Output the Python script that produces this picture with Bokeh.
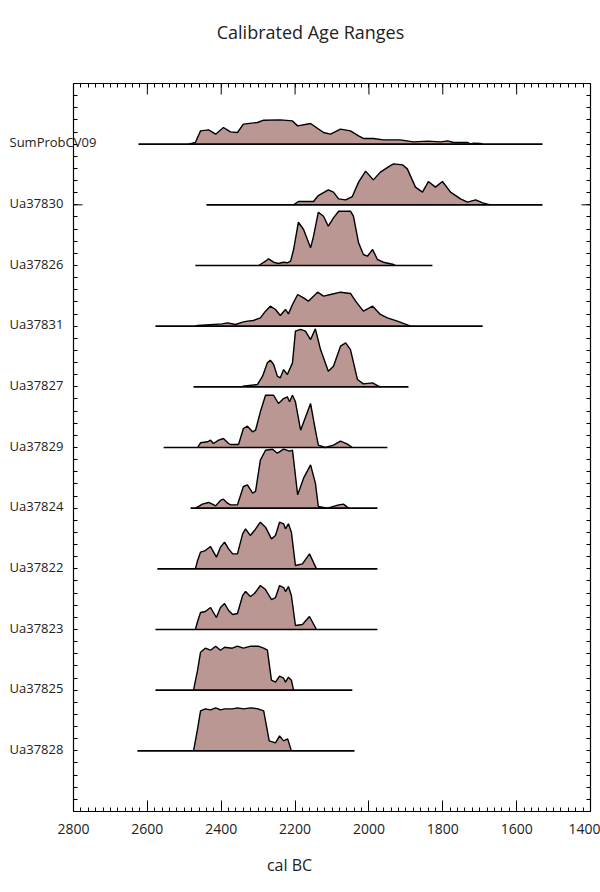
from bokeh.plotting import figure
from bokeh.models import Range1d, LinearAxis, FixedTicker
from bokeh.core.properties import value
from bokeh.embed import file_html
from bokeh.resources import INLINE

TITLE = "Calibrated Age Ranges"
X_LABEL = "cal BC"
X_TICKS = [2800, 2600, 2400, 2200, 2000, 1800, 1600, 1400]

NAMES = ["SumProbCV09", "Ua37830", "Ua37826", "Ua37831", "Ua37827", "Ua37829",
         "Ua37824", "Ua37822", "Ua37823", "Ua37825", "Ua37828"]

# calibrated range lines (cal BC): start, end
RANGE_START = [2624, 2440, 2470, 2578, 2475, 2556, 2483, 2573, 2578, 2578, 2627]
RANGE_END = [1530, 1530, 1828, 1692, 1893, 1950, 1977, 1977, 1977, 2045, 2039]

# probability distributions (relative probability, arbitrary units)
SUM_YEARS = [2489, 2470, 2456, 2434, 2415, 2394, 2375, 2356, 2340, 2302, 2285, 2240, 2207, 2193,
             2158, 2123, 2104, 2077, 2050, 2028, 2015, 1988, 1961, 1915, 1879, 1841, 1806, 1787,
             1771, 1733, 1725, 1717, 1698, 1692]
SUM_PROB = [0, 1.7, 13.3, 14.3, 10, 16.7, 12.3, 11.7, 20, 21.7, 24, 24.3, 23.3, 18.3,
            20.7, 11.7, 10, 15, 13.3, 8.3, 5.7, 5.7, 4.3, 4.3, 2.3, 3, 2.3, 3.3,
            1.7, 1.7, 0, 1, 0.7, 0]

UA37830_YEARS = [2204, 2191, 2150, 2137, 2110, 2096, 2082, 2063, 2045, 2028, 2009, 1988, 1969, 1942,
                 1933, 1909, 1896, 1874, 1855, 1839, 1820, 1801, 1779, 1752, 1733, 1711, 1692, 1671]
UA37830_PROB = [0, 3.3, 3.3, 9.3, 15, 12.7, 6, 5, 8.3, 22.7, 33.7, 25, 32.7, 39.3,
                41, 40, 36, 17.7, 12.7, 23.3, 17.7, 23.3, 12.7, 6, 2.7, 5, 2, 0]

UA37826_YEARS = [2299, 2294, 2280, 2272, 2258, 2245, 2231, 2221, 2212, 2204, 2191, 2177, 2158, 2150,
                 2137, 2123, 2110, 2096, 2082, 2050, 2042, 2028, 2015, 2004, 1990, 1977, 1961, 1933, 1928]
UA37826_PROB = [0, 1, 4.3, 6.7, 3.3, 2, 3.3, 2.7, 4.3, 16, 43.3, 36, 17.7, 29.3,
                53.3, 49.3, 39.3, 47.7, 54.3, 54.3, 49.3, 22.7, 11, 9.3, 16, 6, 3.3, 1, 0]

UA37831_YEARS = [2470, 2464, 2397, 2383, 2361, 2342, 2329, 2313, 2294, 2280, 2267, 2253, 2240, 2226,
                 2218, 2207, 2193, 2177, 2164, 2139, 2123, 2104, 2077, 2050, 2036, 2015, 1990, 1969,
                 1950, 1923, 1887]
UA37831_PROB = [0, 0.7, 2.3, 3.3, 1.7, 4, 5, 5.7, 8.3, 15, 20, 16.7, 10.7, 16.7,
                12.3, 21.7, 31.7, 28.3, 25, 34, 30, 31.7, 34, 32.7, 25, 15, 20, 11.7,
                8.3, 5, 0]

UA37827_YEARS = [2342, 2302, 2288, 2275, 2267, 2258, 2248, 2240, 2231, 2221, 2207, 2199, 2185, 2172,
                 2158, 2145, 2131, 2110, 2096, 2077, 2063, 2050, 2031, 2015, 1990, 1977, 1969]
UA37827_PROB = [0.7, 2.3, 10.7, 24, 26.7, 22.3, 10.7, 9, 17.3, 12.3, 24, 55.7, 57.5, 55.7,
                47.3, 58, 37.3, 15.7, 20.7, 40.7, 44, 37.3, 7.3, 3, 4, 1.3, 0]

UA37829_YEARS = [2464, 2456, 2437, 2429, 2421, 2407, 2394, 2380, 2375, 2353, 2340, 2329, 2315, 2307,
                 2294, 2280, 2258, 2245, 2231, 2221, 2215, 2207, 2199, 2185, 2158, 2145, 2137, 2118,
                 2096, 2077, 2058, 2045]
UA37829_PROB = [0, 4.7, 5.7, 7.3, 4, 7.3, 9, 4, 3, 3, 19, 21.3, 15.7, 17.3,
                35.7, 52.3, 52.3, 44, 49, 50.7, 45.7, 52.3, 45.7, 17.3, 44, 17.3, 2.3, 0,
                2.3, 6.3, 3.3, 0]

UA37824_YEARS = [2470, 2461, 2451, 2434, 2424, 2415, 2402, 2394, 2383, 2375, 2356, 2340, 2329, 2315,
                 2307, 2294, 2280, 2261, 2248, 2231, 2215, 2207, 2193, 2177, 2158, 2145, 2137, 2112,
                 2082, 2069, 2055]
UA37824_PROB = [0, 1.7, 4, 5.7, 4, 2.3, 7.7, 9, 5, 3.3, 3.3, 21.7, 23.3, 15,
                16.7, 48, 58, 59, 55, 59, 57, 58, 13.3, 30, 43.3, 25, 1.7, 0,
                3.3, 4, 0]

UA37822_YEARS = [2470, 2464, 2456, 2443, 2429, 2413, 2402, 2391, 2380, 2369, 2356, 2342, 2334, 2321,
                 2310, 2294, 2280, 2264, 2253, 2242, 2231, 2226, 2218, 2210, 2199, 2180, 2161, 2142]
UA37822_PROB = [0, 8.3, 16.7, 18.3, 22.3, 11.7, 21.7, 26.7, 20, 15, 15, 35, 40, 33.3,
                38.3, 46.7, 41.7, 30, 33.3, 46.7, 45, 40, 45, 36.7, 3.3, 5, 15, 0]

UA37823_YEARS = [2470, 2464, 2456, 2443, 2429, 2413, 2402, 2391, 2380, 2369, 2356, 2342, 2334, 2321,
                 2310, 2294, 2280, 2264, 2253, 2242, 2231, 2226, 2218, 2210, 2199, 2180, 2161, 2142]
UA37823_PROB = [0, 8, 17, 18, 22, 12, 22, 26, 19, 15, 16, 34, 38, 33,
                36, 44, 40, 30, 32, 44, 42, 38, 43, 34, 4, 5, 13, 0]

UA37825_YEARS = [2475, 2464, 2456, 2443, 2429, 2415, 2402, 2391, 2370, 2356, 2340, 2320, 2300, 2285,
                 2275, 2264, 2253, 2242, 2231, 2226, 2218, 2210, 2204]
UA37825_PROB = [0, 20, 38, 42, 40, 44, 40, 43, 42, 44, 42, 44, 44, 42,
                40, 10, 8, 14, 12, 8, 13, 10, 0]

UA37828_YEARS = [2475, 2464, 2456, 2443, 2429, 2415, 2402, 2391, 2370, 2356, 2340, 2320, 2300, 2285,
                 2270, 2253, 2242, 2231, 2220, 2210]
UA37828_PROB = [0, 22, 40, 42, 41, 43, 41, 42, 42, 43, 42, 43, 42, 40,
                10, 8, 15, 10, 12, 0]

YEARS = [SUM_YEARS, UA37830_YEARS, UA37826_YEARS, UA37831_YEARS, UA37827_YEARS, UA37829_YEARS,
         UA37824_YEARS, UA37822_YEARS, UA37823_YEARS, UA37825_YEARS, UA37828_YEARS]
PROBS = [SUM_PROB, UA37830_PROB, UA37826_PROB, UA37831_PROB, UA37827_PROB, UA37829_PROB,
         UA37824_PROB, UA37822_PROB, UA37823_PROB, UA37825_PROB, UA37828_PROB]

FONT = "Open Sans"
TXT = "#222222"
FILL = "#bb9794"
N = len(NAMES)
Y_MAX = N + 1
X_OLD, X_NEW = X_TICKS[0], X_TICKS[-1]

W, H = 600, 892
FL, FR, FT, FB = 73, 590, 83, 811          # edges of the drawn box, canvas px
PX_PER_ROW = (FB - FT) / Y_MAX
PX_PER_YEAR = (FR - FL) / (X_OLD - X_NEW)
PROB_SCALE = 1.0 / 60.7   # relative probability -> row units

def xd(px):   # canvas x px -> data x
    return X_OLD - (px - FL) / PX_PER_YEAR

def yd(py):   # canvas y px -> data y
    return Y_MAX - (py - FT) / PX_PER_ROW

# the plotting frame covers the whole canvas; the axes sit at fixed locations around the box
p = figure(width=W, height=H, x_range=Range1d(xd(0), xd(W)), y_range=Range1d(yd(H), yd(0)),
           output_backend="svg", toolbar_location=None, title=None,
           min_border_left=0, min_border_right=0, min_border_top=0, min_border_bottom=0)
p.grid.visible = False
p.outline_line_color = None
p.background_fill_color = "white"
p.border_fill_color = "white"

minor_x = list(range(X_NEW, X_OLD + 1, 20))
minor_y = [round(0.2 * k, 2) for k in range(0, int(Y_MAX * 5) + 1)]

def style_axis(ax):
    ax.axis_line_color = "black"
    ax.axis_line_width = 1.2
    ax.major_tick_line_color = "black"
    ax.minor_tick_line_color = "black"
    ax.major_tick_out = 0
    ax.minor_tick_out = 0
    ax.minor_tick_in = 4

xax = p.xaxis[0]
xax.ticker = FixedTicker(ticks=X_TICKS, minor_ticks=minor_x)
xax.bounds = (X_NEW, X_OLD)
xax.fixed_location = 0
style_axis(xax)
xax.major_tick_in = 11
xax.major_label_text_font = FONT
xax.major_label_text_font_size = "14px"
xax.major_label_text_color = TXT
xax.major_label_standoff = 12

top = LinearAxis(ticker=FixedTicker(ticks=[], minor_ticks=minor_x), bounds=(X_NEW, X_OLD),
                 fixed_location=Y_MAX)
style_axis(top)
p.add_layout(top, "above")

yax = p.yaxis[0]
yax.ticker = FixedTicker(ticks=[], minor_ticks=minor_y)
yax.bounds = (0, Y_MAX)
yax.fixed_location = X_OLD
style_axis(yax)

right = LinearAxis(ticker=FixedTicker(ticks=[], minor_ticks=minor_y), bounds=(0, Y_MAX),
                   fixed_location=X_NEW)
style_axis(right)
p.add_layout(right, "right")

# longer inward ticks on the top edge (every 200 years) and at the 10th row on both sides
tick_len_y = 11.0 / PX_PER_ROW
p.segment(x0=X_TICKS, x1=X_TICKS, y0=[Y_MAX] * len(X_TICKS), y1=[Y_MAX - tick_len_y] * len(X_TICKS),
          line_color="black", line_width=1)
tick_len_x = 9.0 / PX_PER_YEAR
p.segment(x0=[X_OLD, X_NEW], x1=[X_OLD - tick_len_x, X_NEW + tick_len_x],
          y0=[N - 1, N - 1], y1=[N - 1, N - 1], line_color="black", line_width=1)

rows = [N - i for i in range(N)]
for i in range(N):
    base = rows[i]
    yrs = YEARS[i]
    top_y = [base + v * PROB_SCALE for v in PROBS[i]]
    p.varea(x=yrs, y1=[base] * len(yrs), y2=top_y, fill_color=FILL)
    p.line(x=yrs, y=top_y, line_color="black", line_width=1.4)
    p.line(x=[RANGE_START[i], RANGE_END[i]], y=[base, base], line_color="black", line_width=1.6)

# row names, title and axis title
p.text(x=[xd(9)] * N, y=[r + 2.0 / PX_PER_ROW for r in rows], text=NAMES,
       text_font=value(FONT), text_font_size="13px", text_color=TXT,
       text_align="left", text_baseline="alphabetic")
p.text(x=[xd(310)], y=[yd(31)], text=[TITLE], text_font=value(FONT), text_font_size="18px",
       text_color=TXT, text_align="center", text_baseline="alphabetic")
p.text(x=[xd(289)], y=[yd(864)], text=[X_LABEL], text_font=value(FONT), text_font_size="16px",
       text_color=TXT, text_align="center", text_baseline="alphabetic")

open("out.html", "w").write(file_html(p, INLINE))
